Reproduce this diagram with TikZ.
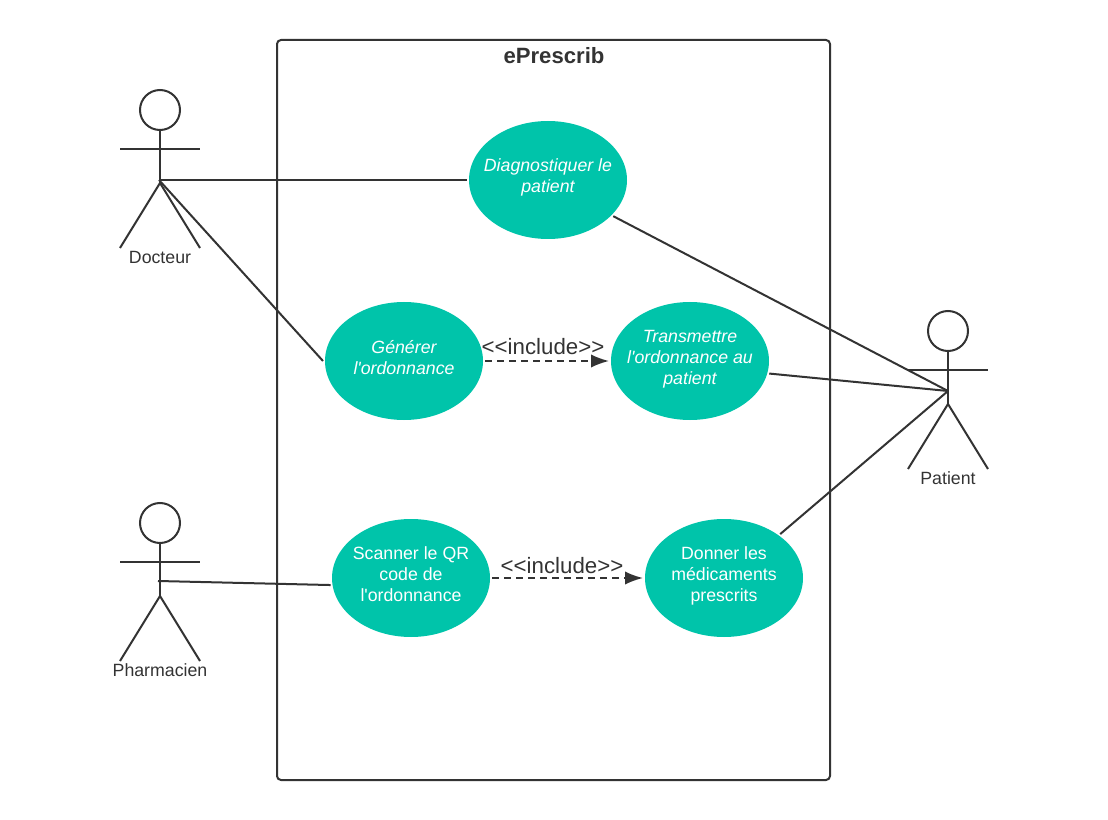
\documentclass[tikz,border=0pt]{standalone}
\usepackage{fontspec}
\setmainfont{Liberation Sans}[Ligatures=TeXOff]
\usepackage{tikz}
\usetikzlibrary{arrows.meta,positioning,shapes.geometric}
\definecolor{ink}{HTML}{333333}
\definecolor{usecolor}{HTML}{00C4AA}
\tikzset{
	usecase/.style={ellipse,fill=usecolor,text=white,minimum width=118.5pt,minimum height=88.5pt,inner sep=-14pt,outer sep=1.5pt,align=center,font=\fontsize{13.3}{15.75}\selectfont,execute at end node={\rule[-6pt]{0pt}{6pt}}},
	link/.style={ink,line width=1.5pt},
	inc/.style={ink,line width=1.5pt,dash pattern=on 5pt off 4pt,-{Latex[length=13.5pt,width=10pt]}},
	inclabel/.style={text=ink,inner sep=0pt,font=\fontsize{16.7}{20}\selectfont},
	actorname/.style={text=ink,inner sep=0pt,font=\fontsize{13.3}{16}\selectfont},
}
\begin{document}
\begin{tikzpicture}[x=0.75pt,y=-0.75pt]
	\useasboundingbox (0,0) rectangle (1108,820);
	% system box
	\node [draw=ink,line width=1.5pt,rounded corners=3pt,minimum width=414.75pt,minimum height=555pt,inner sep=0pt] (system) at (553.5,410) {};
	\node [text=ink,inner sep=0pt,font=\fontsize{16.6}{20}\selectfont\bfseries] (title) at (554,56) {ePrescrib};
	% actors
	\foreach \x/\y/\hipx/\hipy/\who/\lab in {160/110/159/180/docteur/Docteur,160/523/158/581/pharmacien/Pharmacien,948/331/948/391/patient/Patient}{
		\draw [link] (\x,\y) circle [radius=20];
		\draw [link] (\x,\y+20) -- (\x,\y+73);
		\draw [link] (\x-40,\y+39) -- (\x+40,\y+39);
		\draw [link] (\x-40,\y+138) -- (\x,\y+73) -- (\x+40,\y+138);
		\coordinate (\who) at (\hipx,\hipy);
		\node [actorname] (\who name) at (\x,\y+147) {\lab};
	}
	% use cases
	\node [usecase] (diag) at (548,180) {\itshape Diagnostiquer le\\\itshape patient};
	\node [usecase] (gen) at (404,361) {\itshape Générer\\\itshape l'ordonnance};
	\node [usecase] (trans) at (690,361) {\itshape Transmettre\\\itshape l'ordonnance au\\\itshape patient};
	\node [usecase] (scan) at (411,578) {Scanner le QR\\code de\\l'ordonnance};
	\node [usecase] (donner) at (724,578) {Donner les\\médicaments\\prescrits};
	% links
	\draw [link] (docteur) -- (diag.west);
	\draw [link] (docteur) -- (gen.west);
	\draw [link] (pharmacien) -- (scan.185);
	\draw [link] (diag.-29) -- (patient);
	\draw [link] (trans.-9) -- (patient);
	\draw [link] (donner.38) -- (patient);
	\draw [inc] (gen.east) -- (trans.west);
	\draw [inc] (scan.east) -- (donner.west);
	\node [inclabel] (inca) at (543,347) {<<include>>};
	\node [inclabel] (incb) at (562,566) {<<include>>};
\end{tikzpicture}
\end{document}
